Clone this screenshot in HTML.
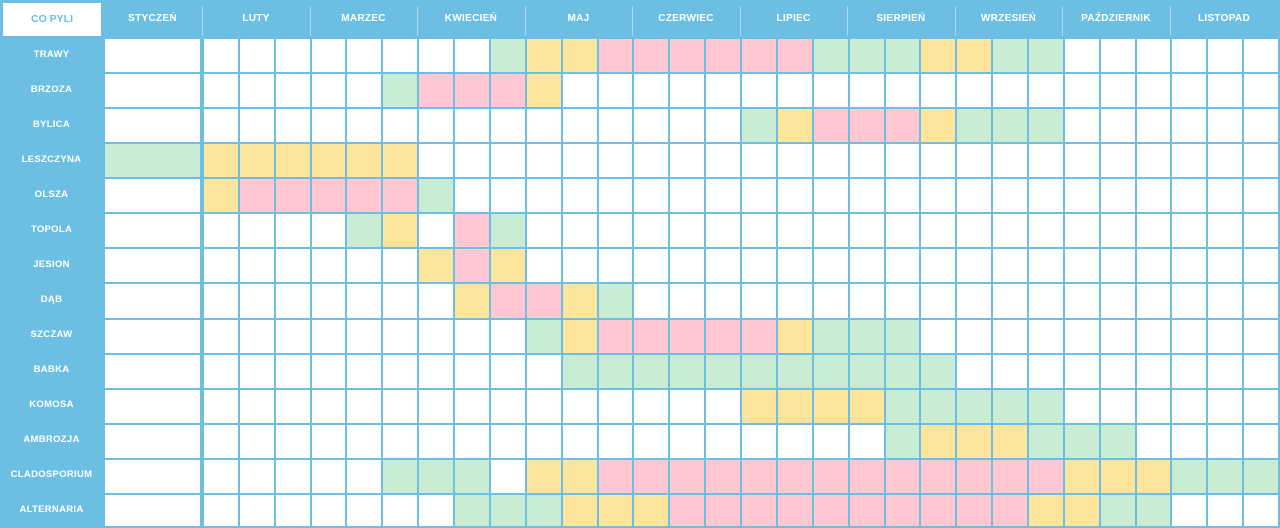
<!DOCTYPE html>
<html><head><meta charset="utf-8"><style>
body{margin:0;width:1280px;height:528px;overflow:hidden;background:#fff}
#w{position:relative;width:1280px;height:528px;background:#6cbfe3;font-family:"Liberation Sans","DejaVu Sans",sans-serif;font-weight:bold;color:#fff}
.c{position:absolute}
.h{position:absolute;top:0;height:37px;line-height:37px;text-align:center;font-size:10px;letter-spacing:0.3px}
.sep{position:absolute;top:6px;height:30px;width:1px;background:#a9dbf0}
.l{position:absolute;left:0;width:103px;text-align:center;font-size:9.5px;letter-spacing:0.3px}
</style></head><body><div id="w">
<div class="c" style="left:3px;top:3px;width:98px;height:33px;background:#fff;color:#6cbfe3;text-align:center;line-height:33px;font-size:10.5px">CO PYLI</div>
<div class="h" style="left:103px;width:99px">STYCZEŃ</div>
<div class="h" style="left:202px;width:108px">LUTY</div>
<div class="h" style="left:310px;width:107px">MARZEC</div>
<div class="h" style="left:417px;width:108px">KWIECIEŃ</div>
<div class="h" style="left:525px;width:107px">MAJ</div>
<div class="h" style="left:632px;width:108px">CZERWIEC</div>
<div class="h" style="left:740px;width:107px">LIPIEC</div>
<div class="h" style="left:847px;width:108px">SIERPIEŃ</div>
<div class="h" style="left:955px;width:107px">WRZESIEŃ</div>
<div class="h" style="left:1062px;width:108px">PAŹDZIERNIK</div>
<div class="h" style="left:1170px;width:108px">LISTOPAD</div>
<div class="sep" style="left:202px"></div><div class="sep" style="left:310px"></div><div class="sep" style="left:417px"></div><div class="sep" style="left:525px"></div><div class="sep" style="left:632px"></div><div class="sep" style="left:740px"></div><div class="sep" style="left:847px"></div><div class="sep" style="left:955px"></div><div class="sep" style="left:1062px"></div><div class="sep" style="left:1170px"></div>
<div class="l" style="top:37px;line-height:35px">TRAWY</div>
<div class="l" style="top:72px;line-height:35px">BRZOZA</div>
<div class="l" style="top:107px;line-height:35px">BYLICA</div>
<div class="l" style="top:142px;line-height:35px">LESZCZYNA</div>
<div class="l" style="top:177px;line-height:35px">OLSZA</div>
<div class="l" style="top:212px;line-height:35px">TOPOLA</div>
<div class="l" style="top:247px;line-height:35px">JESION</div>
<div class="l" style="top:282px;line-height:35px">DĄB</div>
<div class="l" style="top:317px;line-height:35px">SZCZAW</div>
<div class="l" style="top:352px;line-height:35px">BABKA</div>
<div class="l" style="top:387px;line-height:35px">KOMOSA</div>
<div class="l" style="top:422px;line-height:35px">AMBROZJA</div>
<div class="l" style="top:457px;line-height:35px">CLADOSPORIUM</div>
<div class="l" style="top:492px;line-height:35px">ALTERNARIA</div>
</div>
<script>
(function(){
var C={g:'#c8ecd3',y:'#fde69b',p:'#fec7d1',w:'#ffffff'};
var R=[
['w','wwwwwwwwgyyppppppgggyyggwwwwww'],
['w','wwwwwgpppy'],
['w','wwwwwwwwwwwwwwwgypppyggg'],
['g','yyyyyy'],
['w','ypppppg'],
['w','wwwwgywpg'],
['w','wwwwwwypy'],
['w','wwwwwwwyppyg'],
['w','wwwwwwwwwgypppppyggg'],
['w','wwwwwwwwwwggggggggggg'],
['w','wwwwwwwwwwwwwwwyyyyggggg'],
['w','wwwwwwwwwwwwwwwwwwwgyyyggg'],
['w','wwwwwgggwyypppppppppppppyyyggg'],
['w','wwwwwwwgggyyyppppppppppyyggwww']
];
var el=document.getElementById('w'),h='';
for(var r=0;r<14;r++){
 var y0=Math.round(37+35.07*r),y1=Math.round(37+35.07*(r+1));if(r==13)y1=528;
 var ty=y0+2,hh=y1-y0-2-(r==13?2:0);
 h+='<div class="c" style="left:105px;top:'+ty+'px;width:95px;height:'+hh+'px;background:'+C[R[r][0]]+'"></div>';
 for(var k=0;k<30;k++){
  var x0=Math.round(202+35.87*k),x1=Math.round(202+35.87*(k+1));
  var ch=R[r][1].charAt(k)||'w';
  h+='<div class="c" style="left:'+(x0+2)+'px;top:'+ty+'px;width:'+(x1-x0-2)+'px;height:'+hh+'px;background:'+C[ch]+'"></div>';
 }
}
el.insertAdjacentHTML('beforeend',h);
})();
</script>
</body></html>
